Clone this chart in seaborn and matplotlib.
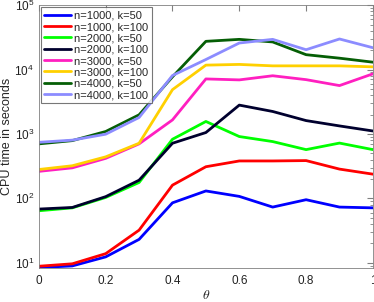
import numpy as np
import pandas as pd
import matplotlib
matplotlib.use("Agg")
import matplotlib.pyplot as plt
import seaborn as sns

theta = [0, 0.1, 0.2, 0.3, 0.4, 0.5, 0.6, 0.7, 0.8, 0.9, 1.0]

labels = ["n=1000, k=50", "n=1000, k=100", "n=2000, k=50", "n=2000, k=100",
          "n=3000, k=50", "n=3000, k=100", "n=4000, k=50", "n=4000, k=100"]

t_1000_50 = [8.4, 8.9, 12.3, 23, 85, 130, 107, 73, 95, 73, 71]
t_1000_100 = [8.8, 9.6, 13.8, 32, 160, 309, 380, 380, 385, 284, 237]
t_2000_50 = [64, 71, 103, 176, 826, 1560, 910, 760, 570, 720, 570]
t_2000_100 = [68, 72, 106, 191, 716, 1050, 2800, 2230, 1610, 1330, 1110]
t_3000_50 = [262, 297, 417, 700, 1650, 7140, 6900, 8000, 6960, 5630, 8570]
t_3000_100 = [280, 320, 440, 716, 4870, 11700, 12000, 11400, 11400, 11400, 11000]
t_4000_50 = [700, 786, 1090, 1980, 7700, 27400, 29400, 26800, 17000, 15000, 13000]
t_4000_100 = [740, 800, 990, 1800, 8070, 14300, 25800, 29400, 20300, 29800, 21800]

series = [t_1000_50, t_1000_100, t_2000_50, t_2000_100,
          t_3000_50, t_3000_100, t_4000_50, t_4000_100]
colors = ['#0000ff', '#ff0000', '#00ff00', '#00002e',
          '#ff1fc0', '#ffd000', '#055e05', '#8c8cff']

df = pd.DataFrame({
    'theta': np.tile(theta, len(labels)),
    'time': np.concatenate(series),
    'run': np.repeat(labels, len(theta)),
})

sns.set_style("white")
plt.rcParams['font.family'] = ['Liberation Sans', 'DejaVu Sans']
plt.rcParams['mathtext.fontset'] = 'cm'

fig = plt.figure(figsize=(3.74, 3.02), dpi=100)
ax = fig.add_axes([0.104, 0.113, 0.893, 0.87])

sns.lineplot(data=df, x='theta', y='time', hue='run', hue_order=labels,
             palette=dict(zip(labels, colors)), linewidth=2, ax=ax)

ax.set_yscale('log')
ax.set_xlim(0, 1)
ax.set_ylim(8.3, 1e5)
ax.set_xticks([0, 0.2, 0.4, 0.6, 0.8, 1])
ax.set_xticklabels(['0', '0.2', '0.4', '0.6', '0.8', '1'])
ax.set_xlabel(r'$\theta$', fontsize=10, labelpad=1)
ax.set_ylabel('CPU time in seconds', fontsize=9, labelpad=1)

for s in ax.spines.values():
    s.set_color('#808080')
    s.set_linewidth(0.6)
ax.tick_params(which='both', direction='in', top=True, right=True,
               colors='#808080', labelcolor='#222222', labelsize=8.5)
ax.tick_params(which='major', length=4)
ax.tick_params(which='minor', length=2)
ax.tick_params(axis='x', pad=5)

leg = ax.legend(loc='upper left', fontsize=8, frameon=True, fancybox=False,
                handlelength=2.4, labelspacing=0.12, borderpad=0.3,
                handletextpad=0.3, borderaxespad=0.2)
leg.get_frame().set_edgecolor('#555555')
leg.get_frame().set_linewidth(0.8)
for line in leg.get_lines():
    line.set_linewidth(2)

fig.savefig('out.png', dpi=100)
